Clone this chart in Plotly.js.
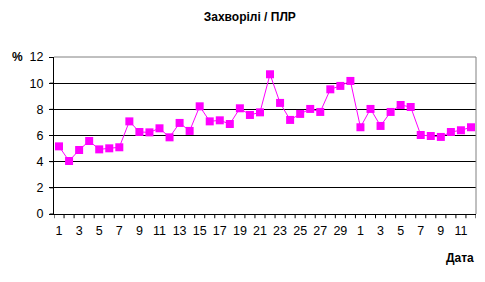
<!DOCTYPE html>
<html><head><meta charset="utf-8">
<script src="https://cdn.plot.ly/plotly-3.0.1.min.js"></script>
<style>body{margin:0;background:#fff}#c{width:485px;height:282px}</style>
</head><body><div id="c"></div>
<script>
const dayLabels = ["1","2","3","4","5","6","7","8","9","10","11","12","13","14","15","16","17","18","19","20","21","22","23","24","25","26","27","28","29","30","1","2","3","4","5","6","7","8","9","10","11","12"];
const values = [5.17,4.05,4.89,5.58,4.94,5.02,5.10,7.08,6.27,6.24,6.55,5.86,6.96,6.35,8.23,7.08,7.16,6.88,8.08,7.57,7.77,10.68,8.49,7.19,7.65,8.03,7.80,9.53,9.79,10.17,6.63,8.03,6.73,7.80,8.33,8.18,6.04,5.96,5.89,6.27,6.40,6.63];
const yTicks = [0, 2, 4, 6, 8, 10, 12];
const titleText = "Захворілі / ПЛР";
const yLabel = "%";
const xLabel = "Дата";

const xs = dayLabels.map((_, i) => i + 1);
const tickVals = xs.filter((_, i) => i % 2 === 0);
const tickText = dayLabels.filter((_, i) => i % 2 === 0);
const boundaries = [0].concat(xs).map(v => v + 0.5);
const font = "Liberation Sans, Arial, sans-serif";

const tickShapes = boundaries.map(b => ({
  type: "line", xref: "x", yref: "paper", x0: b, x1: b, y0: 0, y1: -0.027,
  line: {color: "#000", width: 1}, layer: "above"
})).concat(yTicks.map(v => ({
  type: "line", xref: "paper", yref: "y", x0: 0, x1: -0.01, y0: v, y1: v,
  line: {color: "#000", width: 1}, layer: "above"
})));

Plotly.newPlot("c", [{
  x: xs, y: values, type: "scatter", mode: "lines+markers",
  line: {color: "#FF00FF", width: 1},
  marker: {symbol: "square", size: 8, color: "#FF00FF"},
  hoverinfo: "skip"
}], {
  width: 485, height: 282,
  margin: {l: 54, r: 9, t: 57, b: 68},
  paper_bgcolor: "#fff", plot_bgcolor: "#fff",
  showlegend: false,
  font: {family: font, size: 12, color: "#000"},
  title: {text: titleText, font: {family: font, size: 12, color: "#000", weight: "bold"}, x: 0.515, xanchor: "center", y: 0.94, yanchor: "middle"},
  xaxis: {
    range: [0.5, 42.5], tickmode: "array", tickvals: tickVals, ticktext: tickText,
    ticks: "outside", ticklen: 5, tickcolor: "rgba(0,0,0,0)", showgrid: false, zeroline: false,
    showline: true, linecolor: "#000", linewidth: 1,
    tickfont: {family: font, size: 12.5, color: "#000"}
  },
  yaxis: {
    range: [0, 12], tickmode: "array", tickvals: yTicks,
    ticks: "outside", ticklen: 4, tickcolor: "#000", ticklabelstandoff: 3,
    showgrid: true, gridcolor: "#000", gridwidth: 1, zeroline: false,
    showline: true, linecolor: "#000", linewidth: 1,
    tickfont: {family: font, size: 12.5, color: "#000"}
  },
  shapes: [
    {type: "line", xref: "paper", yref: "paper", x0: 0, x1: 1, y0: 1, y1: 1, line: {color: "#808080", width: 1}},
    {type: "line", xref: "paper", yref: "paper", x0: 1, x1: 1, y0: 0, y1: 1, line: {color: "#808080", width: 1}}
  ].concat(tickShapes),
  annotations: [
    {text: yLabel, xref: "paper", yref: "paper", x: -0.068, y: 1, xanchor: "right", yanchor: "middle", showarrow: false, font: {family: font, size: 12, color: "#000", weight: "bold"}},
    {text: xLabel, xref: "paper", yref: "paper", x: 1, y: -0.28, xanchor: "right", yanchor: "middle", showarrow: false, font: {family: font, size: 12, color: "#000", weight: "bold"}}
  ]
}, {displayModeBar: false, staticPlot: true});
</script></body></html>
